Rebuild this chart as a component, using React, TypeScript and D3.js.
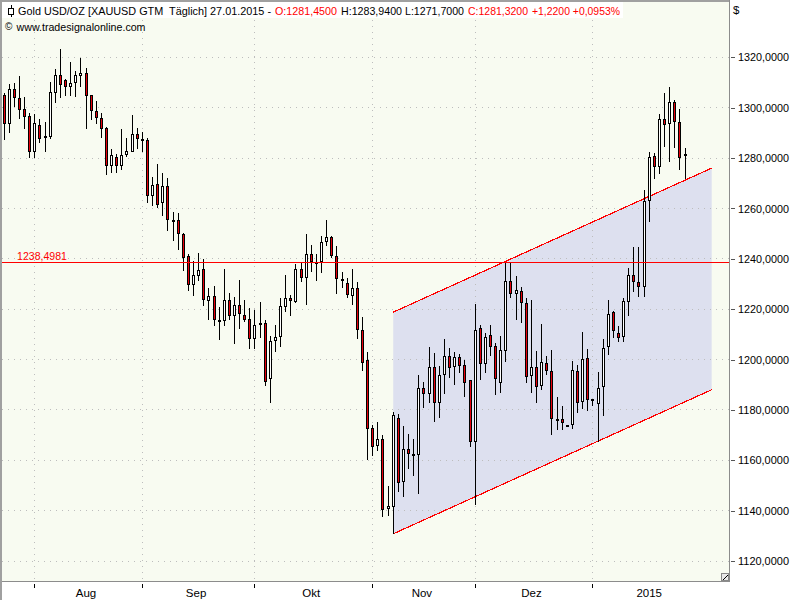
import React, { useEffect, useRef } from 'react';
import * as d3 from 'd3';

const opens = [1305.0,1293.5,1307.4,1303.7,1299.4,1296.6,1282.5,1293.0,1288.8,1288.5,1305.9,1312.8,1310.9,1308.3,1309.7,1312.7,1313.6,1304.9,1298.6,1295.8,1291.8,1276.7,1280.3,1276.7,1281.1,1282.5,1289.4,1287.5,1287.1,1265.0,1269.6,1262.1,1268.9,1255.3,1255.4,1249.8,1241.0,1229.4,1233.3,1235.9,1223.4,1225.2,1215.6,1215.1,1223.6,1217.2,1221.6,1217.6,1216.0,1208.1,1214.6,1214.4,1192.2,1207.3,1208.9,1220.8,1224.4,1223.0,1235.9,1232.5,1241.8,1238.8,1238.7,1246.8,1248.6,1241.0,1231.9,1230.3,1225.4,1228.3,1211.7,1199.9,1172.8,1165.5,1168.4,1140.5,1141.4,1176.7,1151.2,1164.4,1162.6,1161.9,1188.6,1186.5,1197.0,1182.7,1193.8,1201.3,1197.0,1200.9,1197.8,1191.8,1167.2,1212.5,1198.4,1209.7,1205.2,1190.6,1203.3,1231.1,1226.0,1227.4,1222.4,1193.4,1197.0,1189.4,1198.6,1195.4,1176.5,1176.3,1174.0,1174.0,1195.4,1183.1,1200.6,1184.3,1182.3,1189.0,1204.9,1218.8,1210.5,1208.9,1222.8,1233.5,1230.7,1228.7,1262.8,1280.7,1276.3,1295.4,1293.4,1302.1,1294.2,1281.45];
const highs = [1305.7,1309.4,1309.7,1312.6,1304.1,1298.0,1297.5,1295.6,1294.4,1310.2,1315.2,1323.2,1311.5,1318.1,1314.7,1319.7,1315.6,1305.2,1302.5,1297.8,1292.2,1283.5,1281.5,1291.4,1287.8,1297.0,1291.8,1290.4,1287.8,1272.4,1277.7,1273.9,1272.0,1258.6,1258.1,1250.2,1241.8,1239.2,1242.2,1239.8,1228.3,1229.1,1220.8,1235.9,1226.3,1224.8,1231.6,1223.6,1220.4,1219.7,1222.9,1215.8,1209.4,1213.8,1224.5,1233.6,1225.7,1237.8,1238.5,1249.9,1245.5,1241.8,1249.1,1255.4,1249.1,1245.1,1234.8,1232.3,1236.0,1230.7,1216.9,1203.0,1174.1,1175.2,1170.0,1149.9,1179.0,1178.5,1173.7,1170.5,1168.4,1193.9,1191.0,1204.9,1202.5,1197.5,1208.2,1204.5,1202.9,1202.3,1199.9,1192.0,1222.1,1213.8,1210.7,1213.8,1206.7,1209.4,1238.5,1238.5,1233.1,1228.6,1224.4,1223.7,1203.3,1214.1,1201.3,1203.7,1185.2,1181.6,1174.0,1199.5,1197.8,1210.9,1204.2,1184.3,1195.1,1208.2,1223.7,1219.4,1213.3,1224.4,1236.3,1244.6,1244.6,1267.3,1282.4,1282.1,1297.5,1305.8,1308.2,1303.1,1299.4,1283.94];
const lows = [1287.2,1290.1,1300.4,1295.4,1291.7,1280.2,1280.2,1286.1,1282.2,1287.4,1302.0,1303.7,1304.6,1304.6,1304.4,1308.1,1291.7,1295.1,1293.5,1287.8,1273.2,1274.2,1274.2,1275.3,1280.3,1282.2,1283.5,1282.4,1262.3,1261.0,1260.1,1257.0,1251.2,1247.2,1243.5,1235.0,1227.4,1225.3,1231.3,1221.3,1215.5,1213.4,1207.8,1213.4,1215.5,1206.2,1212.3,1214.7,1204.2,1204.2,1208.7,1189.6,1182.9,1202.8,1204.8,1218.7,1217.1,1222.6,1230.9,1221.8,1234.9,1231.2,1234.5,1245.2,1240.5,1226.2,1228.5,1224.5,1221.8,1208.3,1195.5,1160.2,1161.5,1163.5,1137.3,1137.7,1130.8,1147.2,1145.4,1156.6,1153.6,1146.7,1180.8,1182.9,1175.0,1176.6,1186.5,1192.5,1189.7,1194.8,1185.3,1165.1,1142.3,1191.7,1194.6,1201.2,1186.1,1186.9,1199.2,1224.6,1215.5,1214.4,1190.6,1186.9,1182.9,1187.7,1193.8,1170.2,1172.1,1172.1,1173.6,1172.6,1178.7,1180.4,1179.4,1181.7,1167.2,1177.4,1201.6,1208.7,1206.8,1206.8,1217.1,1227.0,1225.0,1225.0,1254.6,1271.8,1273.7,1284.5,1278.6,1284.1,1275.3,1271.7];
const closes = [1293.5,1307.4,1304.0,1299.1,1296.2,1282.2,1293.8,1287.7,1288.1,1306.1,1312.8,1309.1,1308.3,1309.7,1312.8,1313.6,1304.6,1298.6,1295.8,1291.7,1276.7,1281.1,1276.7,1281.1,1282.7,1289.4,1287.5,1286.9,1265.1,1269.2,1261.5,1268.9,1255.2,1255.0,1249.8,1240.5,1229.4,1233.5,1235.5,1223.6,1225.2,1215.6,1215.1,1223.6,1217.2,1221.6,1218.0,1215.6,1208.1,1213.6,1213.9,1190.9,1207.3,1208.9,1221.3,1224.4,1223.2,1235.9,1232.5,1241.8,1238.8,1237.8,1246.6,1248.6,1241.3,1231.8,1231.1,1225.8,1228.3,1211.9,1198.8,1172.6,1165.1,1168.4,1140.1,1141.8,1177.9,1150.8,1164.4,1162.3,1162.2,1188.6,1186.5,1197.0,1182.7,1193.8,1201.3,1196.8,1200.9,1197.6,1190.5,1167.2,1211.7,1198.2,1209.1,1204.9,1192.2,1203.6,1231.1,1226.2,1227.5,1222.4,1193.0,1197.0,1189.0,1199.0,1195.4,1176.3,1176.2,1174.6,1173.6,1195.8,1182.9,1200.2,1184.1,1183.7,1188.6,1204.6,1218.0,1211.3,1208.7,1223.2,1233.5,1230.7,1228.7,1263.0,1280.3,1276.6,1295.4,1293.2,1302.1,1294.2,1280.2,1281.32];

const priceTicks = [1120, 1140, 1160, 1180, 1200, 1220, 1240, 1260, 1280, 1300, 1320];
const monthStarts = [6, 27, 49, 72, 92, 115];
const monthLabels = ['Aug', 'Sep', 'Okt', 'Nov', 'Dez', '2015'];
const monthLabelPos = [16, 37.5, 60, 81.6, 103, 126];

const hLineValue = 1238.4981;
const channelIdx = [76, 138.2];
const channelTop = [1218.8, 1276];
const channelBottom = [1130.8, 1188];

const headerParts = [
    { text: 'Gold USD/OZ [XAUUSD GTM  Täglich] 27.01.2015 -', left: 18, right: 271, color: '#000' },
    { text: 'O:1281,4500', left: 275, right: 337, color: '#f00' },
    { text: 'H:1283,9400', left: 341, right: 402, color: '#000' },
    { text: 'L:1271,7000', left: 405, right: 464, color: '#000' },
    { text: 'C:1281,3200', left: 468, right: 528, color: '#f00' },
    { text: '+1,2200 +0,0953%', left: 532, right: 620, color: '#f00' },
];

const W = 800;
const H = 600;
const FONT = '"Liberation Sans", Arial, sans-serif';
const FONT_SIZE = 11.5;

const App = () => {
    const chartRef = useRef<SVGSVGElement | null>(null);

    useEffect(() => {
        if (!chartRef.current) return;
        const svg = d3.select(chartRef.current);
        svg.selectAll('*').remove();

        const right = 729;
        const bottom = 581;

        const x = d3.scaleLinear().domain([0, 133]).range([4.1, 685.06]);
        const y = d3.scaleLinear().domain([1120, 1320]).range([561, 57.3]);
        const col = (i: number) => Math.floor(x(i));
        const row = (v: number) => Math.round(y(v));

        // page + plot area
        svg.append('rect').attr('width', W).attr('height', H).attr('fill', '#fff');
        svg.append('rect').attr('x', 2).attr('y', 2).attr('width', right - 2).attr('height', bottom - 2).attr('fill', '#f8fbf1');

        // channel fill
        const channel = d3
            .area<number>()
            .x((d) => x(d))
            .y0((_, i) => y(channelBottom[i]))
            .y1((_, i) => y(channelTop[i]));
        svg.append('path').datum(channelIdx).attr('fill', '#dde0ef').attr('d', channel);

        // dotted grid
        const grid = svg.append('g').attr('stroke', '#bdbdbd').attr('stroke-dasharray', '1 5').attr('shape-rendering', 'crispEdges');
        grid.selectAll('line.h')
            .data(priceTicks)
            .join('line')
            .attr('class', 'h')
            .attr('x1', 2)
            .attr('x2', right)
            .attr('y1', (d) => Math.floor(y(d)) + 0.5)
            .attr('y2', (d) => Math.floor(y(d)) + 0.5);
        grid.selectAll('line.v')
            .data(monthStarts)
            .join('line')
            .attr('class', 'v')
            .attr('x1', (d) => col(d) + 0.5)
            .attr('x2', (d) => col(d) + 0.5)
            .attr('y1', 2)
            .attr('y2', bottom);

        // channel borders
        const edge = (vals: number[]) =>
            d3.line<number>().x((d) => x(d)).y((_, i) => y(vals[i]))(channelIdx);
        [channelTop, channelBottom].forEach((vals) => {
            svg.append('path')
                .attr('d', edge(vals))
                .attr('fill', 'none')
                .attr('stroke', '#f00')
                .attr('stroke-width', 1.2)
                .attr('shape-rendering', 'crispEdges');
        });

        // candles
        const candles = svg
            .append('g')
            .attr('shape-rendering', 'crispEdges')
            .selectAll('g')
            .data(opens.map((_, i) => i))
            .join('g');
        candles
            .append('line')
            .attr('x1', (i) => col(i) + 0.5)
            .attr('x2', (i) => col(i) + 0.5)
            .attr('y1', (i) => row(highs[i]))
            .attr('y2', (i) => row(lows[i]))
            .attr('stroke', '#000');
        candles
            .append('rect')
            .attr('x', (i) => col(i) - 0.5)
            .attr('width', 2)
            .attr('y', (i) => row(Math.max(opens[i], closes[i])) + 0.5)
            .attr('height', (i) => Math.max(1, row(Math.min(opens[i], closes[i])) - row(Math.max(opens[i], closes[i])) - 1))
            .attr('fill', (i) => (closes[i] < opens[i] ? '#e8000c' : '#fff'))
            .attr('stroke', '#000');

        // horizontal level
        svg.append('line')
            .attr('x1', 2)
            .attr('x2', right)
            .attr('y1', Math.floor(y(hLineValue)) + 0.5)
            .attr('y2', Math.floor(y(hLineValue)) + 0.5)
            .attr('stroke', '#f00')
            .attr('shape-rendering', 'crispEdges');
        svg.append('text')
            .attr('x', 17)
            .attr('y', 260)
            .attr('font-family', FONT)
            .attr('font-size', FONT_SIZE)
            .attr('fill', '#f00')
            .attr('textLength', 50)
            .attr('lengthAdjust', 'spacingAndGlyphs')
            .text(hLineValue.toFixed(4).replace('.', ','));

        // header band
        svg.append('rect').attr('x', 2).attr('y', 2).attr('width', 621).attr('height', 16).attr('fill', '#fff');
        svg.append('line').attr('x1', 11.5).attr('x2', 11.5).attr('y1', 5).attr('y2', 17).attr('stroke', '#000').attr('shape-rendering', 'crispEdges');
        svg.append('rect').attr('x', 8.5).attr('y', 8.5).attr('width', 5).attr('height', 6).attr('fill', '#fff').attr('stroke', '#000').attr('shape-rendering', 'crispEdges');
        svg.append('g')
            .attr('font-family', FONT)
            .attr('font-size', 11)
            .selectAll('text')
            .data(headerParts)
            .join('text')
            .attr('x', (d) => d.left)
            .attr('y', 15)
            .attr('fill', (d) => d.color)
            .attr('textLength', (d) => d.right - d.left)
            .attr('lengthAdjust', 'spacingAndGlyphs')
            .style('white-space', 'pre')
            .text((d) => d.text);

        svg.append('text').attr('x', 5).attr('y', 29.5).attr('font-family', FONT).attr('font-size', 10).attr('fill', '#000').text('©');
        svg.append('text')
            .attr('x', 16.5)
            .attr('y', 31)
            .attr('font-family', FONT)
            .attr('font-size', FONT_SIZE)
            .attr('fill', '#000')
            .attr('textLength', 129)
            .attr('lengthAdjust', 'spacingAndGlyphs')
            .text('www.tradesignalonline.com');

        // frame
        const frame = svg.append('g').attr('stroke', '#8c8c8c').attr('shape-rendering', 'crispEdges');
        frame.append('rect').attr('x', 0).attr('y', 0).attr('width', 2).attr('height', H).attr('fill', '#a0a0a0').attr('stroke', 'none');
        frame.append('rect').attr('x', 0).attr('y', 0).attr('width', right).attr('height', 2).attr('fill', '#a0a0a0').attr('stroke', 'none');
        frame.append('line').attr('x1', right + 0.5).attr('x2', right + 0.5).attr('y1', 0).attr('y2', bottom + 1);
        frame.append('line').attr('x1', 2).attr('x2', right + 1).attr('y1', bottom + 0.5).attr('y2', bottom + 0.5);

        // price axis
        const axisY = d3
            .axisRight(y)
            .tickValues(priceTicks)
            .tickSize(4)
            .tickPadding(3)
            .tickFormat((d) => (d as number).toFixed(4).replace('.', ','));
        const axisG = svg.append('g').attr('transform', `translate(${right + 2},0)`).call(axisY);
        axisG.select('.domain').remove();
        axisG.selectAll('.tick line').attr('stroke', '#555').attr('shape-rendering', 'crispEdges');
        axisG.selectAll('text')
            .attr('font-family', FONT)
            .attr('font-size', FONT_SIZE)
            .attr('fill', '#000')
            .attr('textLength', 51)
            .attr('lengthAdjust', 'spacingAndGlyphs');
        svg.append('text').attr('x', 733).attr('y', 14).attr('font-family', FONT).attr('font-size', FONT_SIZE).attr('fill', '#000').text('$');

        // month axis
        const ticksX = svg.append('g').attr('stroke', '#000').attr('shape-rendering', 'crispEdges');
        ticksX.selectAll('line')
            .data(monthStarts)
            .join('line')
            .attr('x1', (d) => col(d) + 0.5)
            .attr('x2', (d) => col(d) + 0.5)
            .attr('y1', 584)
            .attr('y2', 588);
        svg.append('g')
            .attr('font-family', FONT)
            .attr('font-size', FONT_SIZE)
            .attr('text-anchor', 'middle')
            .selectAll('text')
            .data(monthLabels)
            .join('text')
            .attr('x', (_, i) => x(monthLabelPos[i]))
            .attr('y', 597)
            .attr('fill', '#000')
            .text((d) => d);

        // resize handle
        svg.append('rect').attr('x', 721.5).attr('y', 573.5).attr('width', 7).attr('height', 7).attr('fill', '#e8e8e8').attr('stroke', '#888').attr('shape-rendering', 'crispEdges');
        svg.append('line').attr('x1', 723).attr('x2', 728).attr('y1', 580).attr('y2', 575).attr('stroke', '#000');
    }, []);

    return <svg ref={chartRef} width={W} height={H} style={{ position: 'absolute', left: 0, top: 0 }}></svg>;
};

export default App;
